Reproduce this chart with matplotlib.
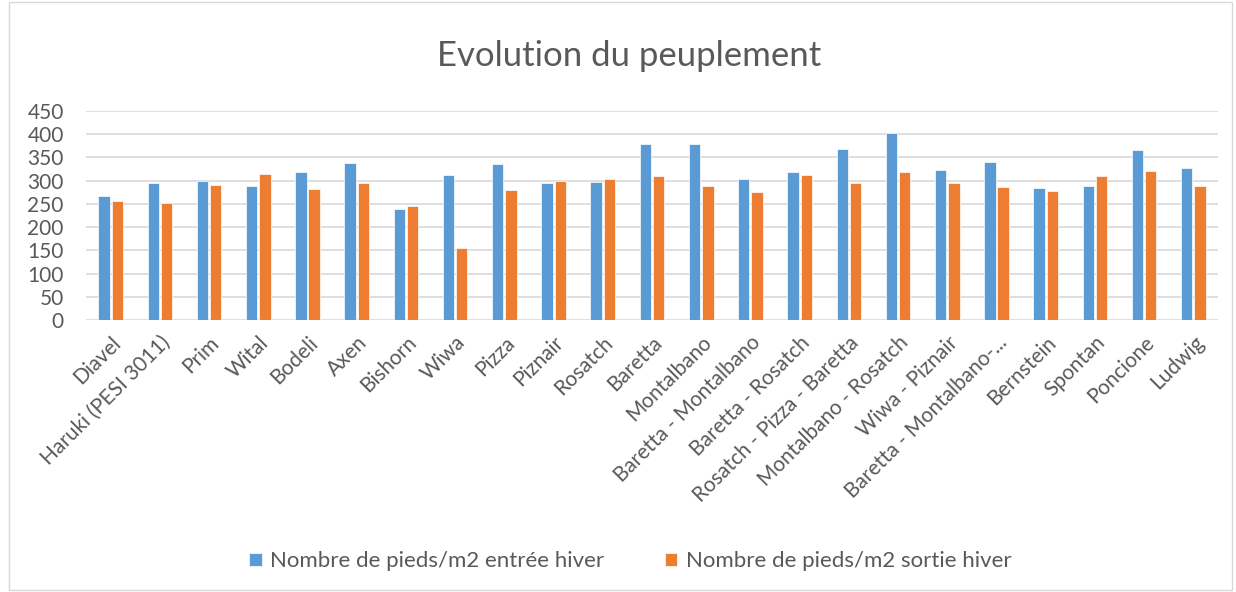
import matplotlib.pyplot as plt
import numpy as np
from matplotlib.patches import Rectangle

categories = ["Diavel", "Haruki (PESI 3011)", "Prim", "Wital", "Bodeli", "Axen",
              "Bishorn", "Wiwa", "Pizza", "Piznair", "Rosatch", "Baretta",
              "Montalbano", "Baretta - Montalbano", "Baretta - Rosatch",
              "Rosatch - Pizza - Baretta", "Montalbano - Rosatch", "Wiwa - Piznair",
              "Baretta - Montalbano-...", "Bernstein", "Spontan", "Poncione", "Ludwig"]
entree = [268, 296, 299, 288, 319, 337, 240, 312, 335, 295, 298, 379,
          379, 304, 319, 368, 403, 323, 341, 284, 289, 365, 328]
sortie = [256, 252, 291, 314, 283, 295, 246, 154, 279, 300, 304, 309,
          289, 276, 312, 295, 318, 295, 286, 278, 310, 320, 289]
yticks = [0, 50, 100, 150, 200, 250, 300, 350, 400, 450]

plt.rcParams['font.family'] = ['Lato', 'DejaVu Sans']
txt = '#595959'

fig = plt.figure(figsize=(12.36, 5.92), dpi=100)
fig.patches.append(Rectangle((0.007, 0.003), 0.99, 0.994, transform=fig.transFigure,
                             fill=False, edgecolor='#D9D9D9', linewidth=1))
ax = fig.add_axes([0.0696, 0.4595, 0.9158, 0.353])

x = np.arange(len(categories))
w = 0.23
ax.bar(x - 0.135, entree, w, color='#5B9BD5', edgecolor='white', linewidth=0.5,
       label='Nombre de pieds/m2 entrée hiver', zorder=3)
ax.bar(x + 0.135, sortie, w, color='#ED7D31', edgecolor='white', linewidth=0.5,
       label='Nombre de pieds/m2 sortie hiver', zorder=3)

ax.set_xlim(-0.5, len(categories) - 0.5)
ax.set_ylim(0, 450)
ax.set_yticks(yticks)
ax.yaxis.grid(True, color='#D9D9D9', linewidth=1.2, zorder=0)
for s in ax.spines.values():
    s.set_visible(False)
ax.tick_params(axis='both', length=0, colors=txt, labelsize=15)
ax.tick_params(axis='y', pad=16)
ax.set_xticks(x)
ax.set_xticklabels(categories, rotation=45, ha='right', rotation_mode='anchor')
ax.tick_params(axis='x', pad=9)

fig.text(0.509, 0.905, "Evolution du peuplement", ha='center', va='center',
         fontsize=25, color=txt)
fig.legend(loc='center', bbox_to_anchor=(0.51, 0.052), ncol=2, frameon=False,
           fontsize=16, labelcolor=txt, handlelength=0.55, handleheight=0.55,
           columnspacing=2.7, handletextpad=0.4)

fig.savefig('out.png', dpi=100)
